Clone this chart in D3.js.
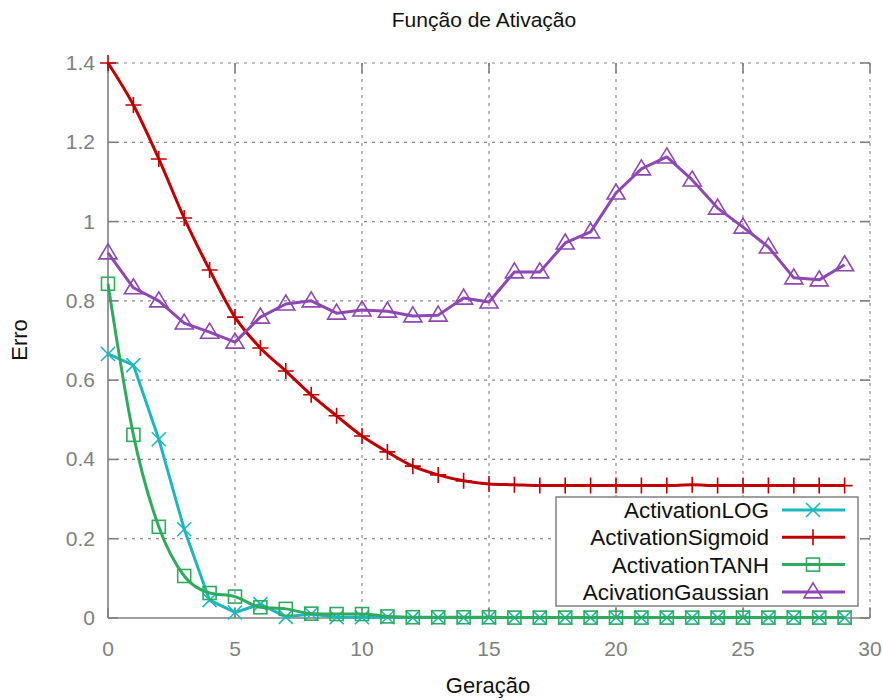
<!DOCTYPE html>
<html><head><meta charset="utf-8">
<script src="https://cdn.jsdelivr.net/npm/d3@7"></script>
<style>body{margin:0;background:#fff}svg{display:block;font-family:"Liberation Sans",Arial,sans-serif}</style>
</head><body><svg id="c" width="883" height="700"></svg>
<script>
const generations = d3.range(0, 30);
const activationLOG = [0.666,0.638,0.451,0.224,0.045,0.014,0.035,0.003,0.010,0.002,0.002,0.002,0.001,0.001,0.001,0.001,0.001,0.001,0.001,0.001,0.001,0.001,0.001,0.001,0.001,0.001,0.001,0.001,0.001,0.001];
const activationSigmoid = [1.400,1.294,1.158,1.009,0.878,0.759,0.681,0.623,0.563,0.510,0.459,0.419,0.383,0.361,0.346,0.338,0.336,0.334,0.334,0.334,0.334,0.334,0.334,0.336,0.334,0.334,0.334,0.334,0.334,0.334];
const activationTANH = [0.843,0.462,0.230,0.106,0.063,0.054,0.027,0.023,0.011,0.010,0.010,0.004,0.002,0.002,0.002,0.002,0.001,0.001,0.001,0.001,0.001,0.001,0.001,0.001,0.001,0.001,0.001,0.001,0.001,0.001];
const acivationGaussian = [0.921,0.833,0.800,0.744,0.721,0.696,0.759,0.792,0.800,0.769,0.777,0.774,0.762,0.764,0.807,0.797,0.873,0.873,0.946,0.974,1.072,1.133,1.163,1.105,1.034,0.986,0.936,0.858,0.853,0.891];
const xTicks = [0,5,10,15,20,25,30];
const yTicks = [0,0.2,0.4,0.6,0.8,1,1.2,1.4];
const seriesNames = ["ActivationLOG","ActivationSigmoid","ActivationTANH","AcivationGaussian"];
const seriesColors = ["#1cb8be","#c00000","#2eab5c","#8e47b3"];
const seriesMarkers = ["x","plus","square","triangle"];
const seriesValues = [activationLOG, activationSigmoid, activationTANH, acivationGaussian];
const seriesCurves = [d3.curveLinear, d3.curveMonotoneX, d3.curveMonotoneX, d3.curveLinear];

const L=108, R=870, T=63, B=618;
const svg = d3.select("#c");
const x = d3.scaleLinear().domain([0,30]).range([L,R]);
const y = d3.scaleLinear().domain([0,1.4]).range([B,T]);
const gray = "#808080";

// grid
const grid = svg.append("g").attr("stroke","#8a8a8a").attr("stroke-width",1.2).attr("stroke-dasharray","3,5");
xTicks.filter(d=>d>0).forEach(d=>grid.append("line").attr("x1",x(d)).attr("x2",x(d)).attr("y1",B).attr("y2",T));
yTicks.filter(d=>d>0).forEach(d=>grid.append("line").attr("x1",L).attr("x2",R).attr("y1",y(d)).attr("y2",y(d)));

// axes
const ax = svg.append("g").attr("stroke",gray).attr("stroke-width",1.6);
ax.append("line").attr("x1",L).attr("x2",R).attr("y1",B).attr("y2",B);
ax.append("line").attr("x1",L).attr("x2",L).attr("y1",B).attr("y2",T);
xTicks.forEach(d=>{
  ax.append("line").attr("x1",x(d)).attr("x2",x(d)).attr("y1",B).attr("y2",B-10);
  ax.append("line").attr("x1",x(d)).attr("x2",x(d)).attr("y1",T).attr("y2",T+10);
});
yTicks.forEach(d=>{
  ax.append("line").attr("x1",L).attr("x2",L+10).attr("y1",y(d)).attr("y2",y(d));
  ax.append("line").attr("x1",R).attr("x2",R-10).attr("y1",y(d)).attr("y2",y(d));
});
const tl = svg.append("g").attr("fill",gray).attr("font-size",21);
xTicks.forEach(d=>tl.append("text").attr("x",x(d)).attr("y",B+38).attr("text-anchor","middle").text(d));
yTicks.forEach(d=>tl.append("text").attr("x",L-13).attr("y",y(d)+7).attr("text-anchor","end").text(d3.format("~g")(d)));

// titles
svg.append("text").attr("x",484).attr("y",27).attr("text-anchor","middle").attr("font-size",21).attr("fill","#111").text("Função de Ativação");
svg.append("text").attr("x",488).attr("y",693).attr("text-anchor","middle").attr("font-size",22).attr("fill","#111").text("Geração");
svg.append("text").attr("transform","translate(27,340) rotate(-90)").attr("text-anchor","middle").attr("font-size",22).attr("fill","#111").text("Erro");

function marker(g, type, cx, cy, color){
  const s=7;
  if(type==="x"){
    g.append("path").attr("d",`M${cx-s},${cy-s}L${cx+s},${cy+s}M${cx-s},${cy+s}L${cx+s},${cy-s}`).attr("stroke",color).attr("stroke-width",1.6).attr("fill","none");
  } else if(type==="plus"){
    g.append("path").attr("d",`M${cx-s-1},${cy}L${cx+s+1},${cy}M${cx},${cy-s-1}L${cx},${cy+s+1}`).attr("stroke",color).attr("stroke-width",1.6).attr("fill","none");
  } else if(type==="square"){
    g.append("rect").attr("x",cx-s+0.5).attr("y",cy-s+0.5).attr("width",2*s-1).attr("height",2*s-1).attr("stroke",color).attr("stroke-width",1.6).attr("fill","none");
  } else {
    g.append("path").attr("d",`M${cx},${cy-9}L${cx+9},${cy+6}L${cx-9},${cy+6}Z`).attr("stroke",color).attr("stroke-width",1.6).attr("fill","none");
  }
}

const plot = svg.append("g");
seriesValues.forEach((vals,i)=>{
  const line = d3.line().x((d,j)=>x(generations[j])).y(d=>y(d)).curve(seriesCurves[i]);
  plot.append("path").attr("d",line(vals)).attr("fill","none").attr("stroke",seriesColors[i]).attr("stroke-width",3).attr("stroke-linejoin","round");
  const mg = plot.append("g");
  vals.forEach((v,j)=>marker(mg, seriesMarkers[i], x(generations[j]), y(v), seriesColors[i]));
});

// legend
const lg = svg.append("g");
lg.append("rect").attr("x",556).attr("y",497).attr("width",302).attr("height",109).attr("fill","#fff").attr("stroke",gray).attr("stroke-width",1.5);
seriesNames.forEach((n,i)=>{
  const ly = 510 + i*27.3;
  lg.append("text").attr("x",769).attr("y",ly+8).attr("text-anchor","end").attr("font-size",22.5).attr("fill","#111").text(n);
  lg.append("line").attr("x1",782).attr("x2",845).attr("y1",ly).attr("y2",ly).attr("stroke",seriesColors[i]).attr("stroke-width",3);
  marker(lg, seriesMarkers[i], 813, ly, seriesColors[i]);
});
</script></body></html>
